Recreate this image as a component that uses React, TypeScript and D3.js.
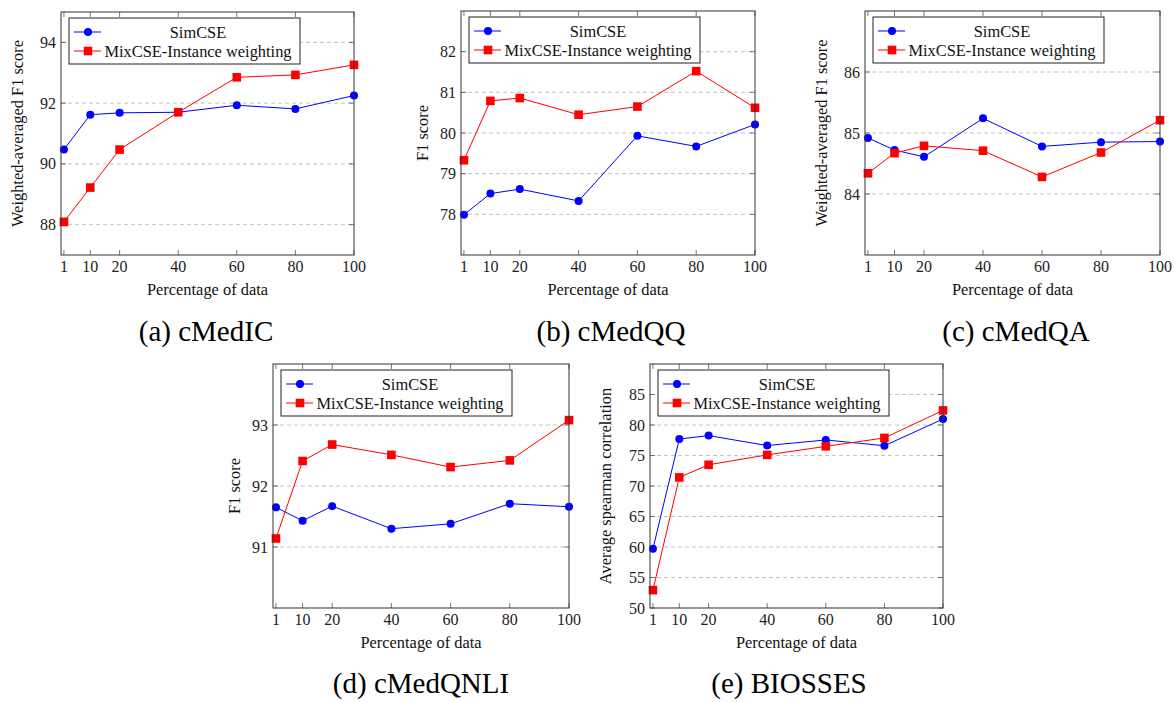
import React from 'react';
import * as d3 from 'd3';

// x axis: percentage of training data
const percentages = [1, 10, 20, 40, 60, 80, 100];

// (a) cMedIC
const cMedICSimCSE = [90.47, 91.62, 91.68, 91.7, 91.93, 91.81, 92.25];
const cMedICMixCSE = [88.09, 89.22, 90.47, 91.7, 92.85, 92.93, 93.26];
const cMedICTicks = [88, 90, 92, 94];

// (b) cMedQQ
const cMedQQSimCSE = [77.99, 78.51, 78.62, 78.33, 79.93, 79.67, 80.21];
const cMedQQMixCSE = [79.33, 80.79, 80.86, 80.45, 80.65, 81.52, 80.62];
const cMedQQTicks = [78, 79, 80, 81, 82];

// (c) cMedQA
const cMedQASimCSE = [84.92, 84.72, 84.61, 85.24, 84.78, 84.85, 84.86];
const cMedQAMixCSE = [84.34, 84.67, 84.79, 84.71, 84.28, 84.68, 85.21];
const cMedQATicks = [84, 85, 86];

// (d) cMedQNLI
const cMedQNLISimCSE = [91.65, 91.43, 91.67, 91.3, 91.38, 91.71, 91.66];
const cMedQNLIMixCSE = [91.14, 92.41, 92.68, 92.51, 92.31, 92.42, 93.08];
const cMedQNLITicks = [91, 92, 93];

// (e) BIOSSES
const biossesSimCSE = [59.7, 77.7, 78.26, 76.63, 77.55, 76.6, 80.98];
const biossesMixCSE = [52.93, 71.41, 73.48, 75.1, 76.5, 77.88, 82.39];
const biossesTicks = [50, 55, 60, 65, 70, 75, 80, 85];

const FONT = "'Liberation Serif', 'DejaVu Serif', serif";
const BLUE = '#0000ff';
const RED = '#ff0000';

const panels = [
  { caption: '(a) cMedIC', ylabel: 'Weighted-averaged F1 score', sim: cMedICSimCSE, mix: cMedICMixCSE, ticks: cMedICTicks, ydomain: [87, 95],
    box: { l: 61, r: 354, t: 12, b: 255 }, ylabelX: 18, capX: 206, capY: 341 },
  { caption: '(b) cMedQQ', ylabel: 'F1 score', sim: cMedQQSimCSE, mix: cMedQQMixCSE, ticks: cMedQQTicks, ydomain: [77, 83],
    box: { l: 461, r: 755, t: 11, b: 255 }, ylabelX: 423, capX: 611, capY: 341 },
  { caption: '(c) cMedQA', ylabel: 'Weighted-averaged F1 score', sim: cMedQASimCSE, mix: cMedQAMixCSE, ticks: cMedQATicks, ydomain: [83, 87],
    box: { l: 865, r: 1160, t: 11, b: 255 }, ylabelX: 822, capX: 1016, capY: 341 },
  { caption: '(d) cMedQNLI', ylabel: 'F1 score', sim: cMedQNLISimCSE, mix: cMedQNLIMixCSE, ticks: cMedQNLITicks, ydomain: [90, 94],
    box: { l: 273, r: 569, t: 364, b: 608 }, ylabelX: 235, capX: 421, capY: 693 },
  { caption: '(e) BIOSSES', ylabel: 'Average spearman correlation', sim: biossesSimCSE, mix: biossesMixCSE, ticks: biossesTicks, ydomain: [50, 90],
    box: { l: 650, r: 943, t: 364, b: 608 }, ylabelX: 606, capX: 789, capY: 693 },
];

function Panel({ p }) {
  const { l, r, t, b } = p.box;
  const x = d3.scaleLinear().domain([0, 100]).range([l, r]);
  const y = d3.scaleLinear().domain(p.ydomain).range([b, t]);
  const line = d3.line<number>().x((_, i) => x(percentages[i])).y(d => y(d));

  const legL = l + 8;
  const legT = t + 6;

  return (
    <g style={{ fontFamily: FONT }}>
      {/* grid */}
      {p.ticks.filter(v => y(v) < b - 1).map(v => (
        <line key={'g' + v} x1={l} x2={r} y1={y(v)} y2={y(v)} stroke="#b3b3b3" strokeWidth={0.8} strokeDasharray="4 3" />
      ))}
      {/* ticks */}
      {percentages.map(v => (
        <g key={'xt' + v}>
          <line x1={x(v)} x2={x(v)} y1={b} y2={b - 5} stroke="#555" strokeWidth={0.8} />
          <line x1={x(v)} x2={x(v)} y1={t} y2={t + 5} stroke="#555" strokeWidth={0.8} />
          <text x={x(v)} y={b + 17} fontSize={16} textAnchor="middle" fill="#222">{v}</text>
        </g>
      ))}
      {p.ticks.map(v => (
        <g key={'yt' + v}>
          <line x1={l} x2={l + 5} y1={y(v)} y2={y(v)} stroke="#555" strokeWidth={0.8} />
          <line x1={r} x2={r - 5} y1={y(v)} y2={y(v)} stroke="#555" strokeWidth={0.8} />
          <text x={l - 5} y={y(v) + 5.5} fontSize={16} textAnchor="end" fill="#222">{v}</text>
        </g>
      ))}
      {/* series */}
      <path d={line(p.sim) || ''} fill="none" stroke={BLUE} strokeWidth={1} />
      <path d={line(p.mix) || ''} fill="none" stroke={RED} strokeWidth={1} />
      {p.sim.map((v, i) => (
        <circle key={'s' + i} cx={x(percentages[i])} cy={y(v)} r={4} fill={BLUE} />
      ))}
      {p.mix.map((v, i) => (
        <rect key={'m' + i} x={x(percentages[i]) - 4.3} y={y(v) - 4.3} width={8.6} height={8.6} fill={RED} />
      ))}
      {/* frame */}
      <rect x={l} y={t} width={r - l} height={b - t} fill="none" stroke="#333" strokeWidth={1} />
      {/* legend */}
      <rect x={legL} y={legT} width={231} height={46} fill="#fff" stroke="#222" strokeWidth={1} />
      <line x1={legL + 5} x2={legL + 32} y1={legT + 14} y2={legT + 14} stroke={BLUE} strokeWidth={1} />
      <circle cx={legL + 19} cy={legT + 14} r={4} fill={BLUE} />
      <text x={legL + 129} y={legT + 19.5} fontSize={16.4} textAnchor="middle" fill="#111">SimCSE</text>
      <line x1={legL + 5} x2={legL + 32} y1={legT + 33} y2={legT + 33} stroke={RED} strokeWidth={1} />
      <rect x={legL + 19 - 4.3} y={legT + 33 - 4.3} width={8.6} height={8.6} fill={RED} />
      <text x={legL + 129} y={legT + 38.5} fontSize={16.4} textAnchor="middle" fill="#111">MixCSE-Instance weighting</text>
      {/* axis labels */}
      <text x={(l + r) / 2} y={b + 40} fontSize={16.4} textAnchor="middle" fill="#111">Percentage of data</text>
      <text transform={`translate(${p.ylabelX + 5},${(t + b) / 2}) rotate(-90)`} fontSize={16.4} textAnchor="middle" fill="#111">{p.ylabel}</text>
      {/* caption */}
      <text x={p.capX} y={p.capY} fontSize={29} textAnchor="middle" fill="#000">{p.caption}</text>
    </g>
  );
}

export default function App() {
  return (
    <svg width={1174} height={702} style={{ position: 'absolute', left: 0, top: 0, background: '#fff' }}>
      <rect width={1174} height={702} fill="#fff" />
      {panels.map(p => <Panel key={p.caption} p={p} />)}
    </svg>
  );
}
